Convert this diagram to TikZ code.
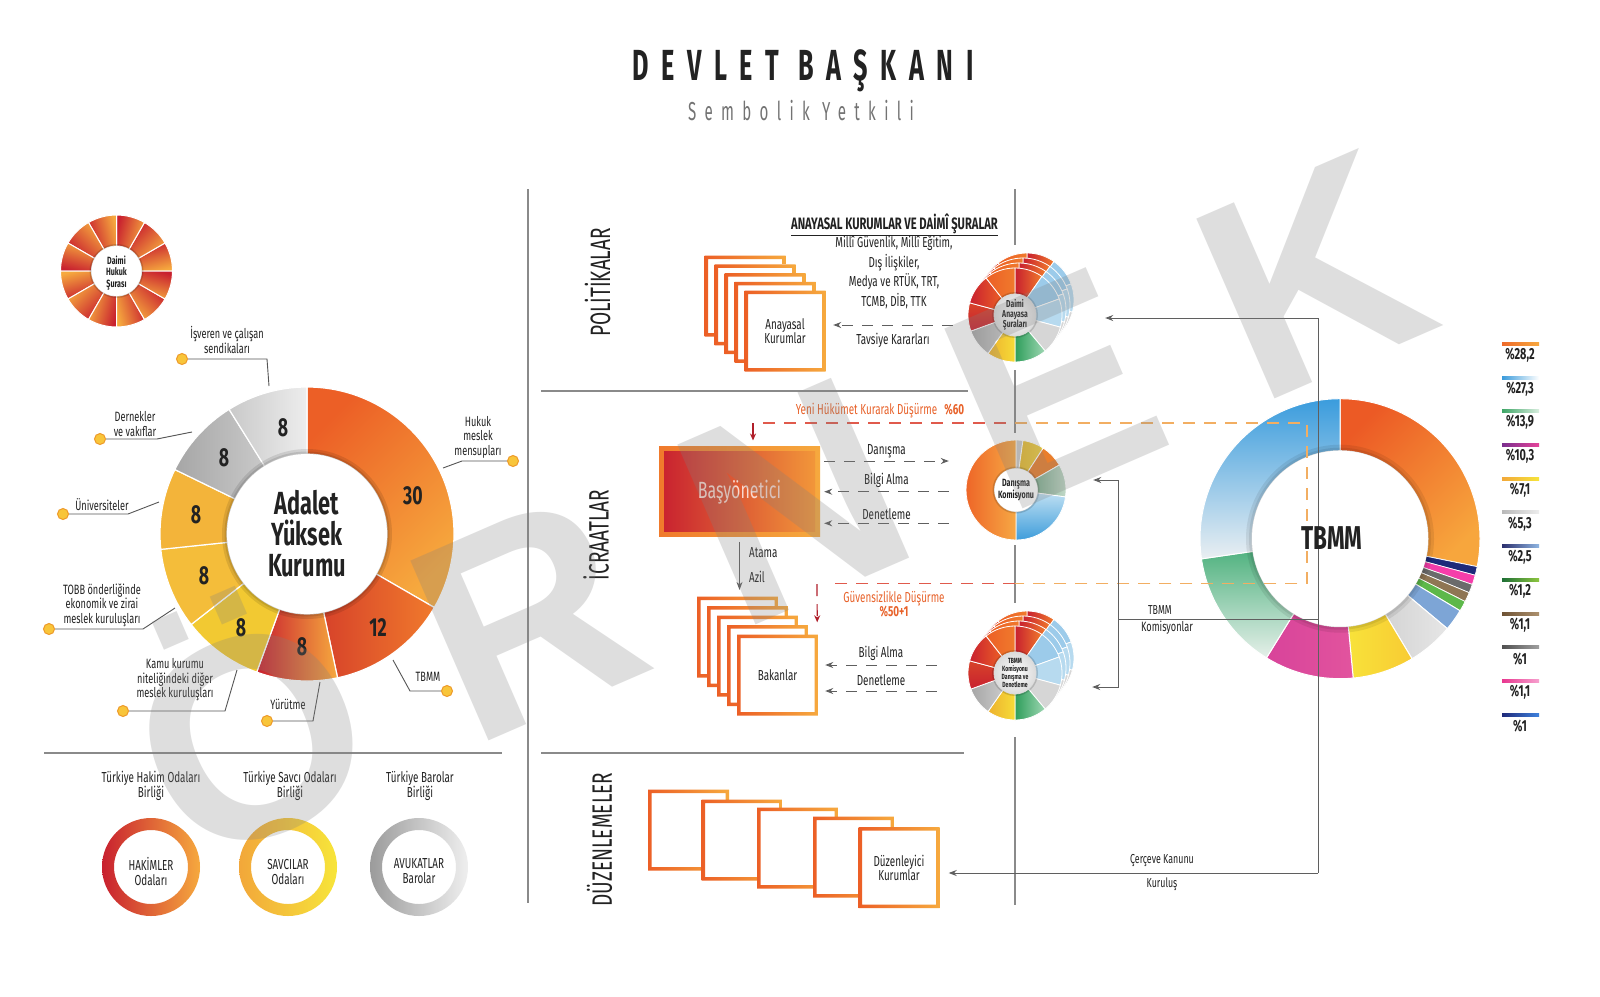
\documentclass[tikz,border=0pt]{standalone}
\usepackage{fontspec}
\setmainfont{Fira Sans}[FakeStretch=0.68]
\newfontfamily\ttlfont{Fira Sans}[FakeStretch=0.58, LetterSpace=29]
\newfontfamily\subfont{Fira Sans}[FakeStretch=0.58, LetterSpace=32]
\newfontfamily\wmfont{Liberation Sans}[LetterSpace=30]
\usetikzlibrary{arrows.meta, positioning}

\definecolor{cRed}{HTML}{C8202F}
\definecolor{cRedO}{HTML}{D7432A}
\definecolor{cOrgD}{HTML}{EC5F26}
\definecolor{cOrg}{HTML}{F07A2C}
\definecolor{cLOrg}{HTML}{F6A93E}
\definecolor{cYel}{HTML}{F2C932}
\definecolor{cGoldA}{HTML}{F4BD3A}
\definecolor{cGold}{HTML}{F3B43A}
\definecolor{cGrayD}{HTML}{A6A6A6}
\definecolor{cGrayM}{HTML}{C9C9C9}
\definecolor{cGrayL}{HTML}{EDEDED}
\definecolor{cLine}{HTML}{8A8A8A}
\definecolor{cConn}{HTML}{5F5F5F}
\definecolor{cTxt}{HTML}{222222}
\definecolor{cDashR}{HTML}{E05A4C}
\definecolor{cDashO}{HTML}{F2AE62}
\definecolor{cDarkRed}{HTML}{B01E2A}
\definecolor{cOrgTxt}{HTML}{E8622A}
\definecolor{cDot}{HTML}{F8C53A}
\definecolor{cDotE}{HTML}{EE9A2A}
\definecolor{cLead}{HTML}{555555}
\definecolor{cPink}{HTML}{F9D9CF}
% legend colours
\definecolor{lg1L}{HTML}{EE6A2A}\definecolor{lg1R}{HTML}{F7A83E}
\definecolor{lg2L}{HTML}{3A9BDB}\definecolor{lg2R}{HTML}{FFFFFF}
\definecolor{lg3L}{HTML}{3DA566}\definecolor{lg3R}{HTML}{D9EEDF}
\definecolor{lg4L}{HTML}{7A2E8E}\definecolor{lg4R}{HTML}{E6449A}
\definecolor{lg5L}{HTML}{F2A83A}\definecolor{lg5R}{HTML}{F6E43B}
\definecolor{lg6L}{HTML}{B9B9B9}\definecolor{lg6R}{HTML}{EDEDED}
\definecolor{lg7L}{HTML}{2B2F6E}\definecolor{lg7R}{HTML}{8FB6E2}
\definecolor{lg8L}{HTML}{1E6F36}\definecolor{lg8R}{HTML}{8DC63F}
\definecolor{lg9L}{HTML}{6E5234}\definecolor{lg9R}{HTML}{AD916E}
\definecolor{lg10L}{HTML}{505050}\definecolor{lg10R}{HTML}{A0A0A0}
\definecolor{lg11L}{HTML}{E8368F}\definecolor{lg11R}{HTML}{F7A1CF}
\definecolor{lg12L}{HTML}{1F2A7A}\definecolor{lg12R}{HTML}{3E82DE}

\newcommand{\ringseg}[5]{\path[#5] (#1:#4) arc[start angle=#1, end angle=#2, radius=#4] -- (#2:#3) arc[start angle=#2, end angle=#1, radius=#3] -- cycle;}

\newcommand{\meclisring}{%
 \ringseg{90}{55}{21}{47}{left color=cRed, right color=cOrg, draw=white, line width=0.8}
 \ringseg{55}{20}{21}{47}{fill={rgb,255:red,156;green,203;blue,234}, draw=white, line width=0.8}
 \ringseg{20}{-15}{21}{47}{fill={rgb,255:red,183;green,218;blue,239}, draw=white, line width=0.8}
 \ringseg{-15}{-50}{21}{47}{fill={rgb,255:red,214;green,214;blue,214}, draw=white, line width=0.8}
 \ringseg{-50}{-90}{21}{47}{left color={rgb,255:red,46;green,158;blue,91}, right color={rgb,255:red,159;green,215;blue,179}, draw=white, line width=0.8}
 \ringseg{-90}{-125}{21}{47}{left color={rgb,255:red,237;green,177;blue,46}, right color={rgb,255:red,246;green,220;blue,56}, draw=white, line width=0.8}
 \ringseg{-125}{-160}{21}{47}{left color=cGrayD, right color=cGrayM, draw=white, line width=0.8}
 \ringseg{-160}{-195}{21}{47}{top color=cRedO, bottom color=cRed, draw=white, line width=0.8}
 \ringseg{-195}{-232}{21}{47}{left color=cRed, right color=cOrgD, draw=white, line width=0.8}
 \ringseg{-232}{-270}{21}{47}{left color=cOrgD, right color=cOrg, draw=white, line width=0.8}
}

\begin{document}
\begin{tikzpicture}[x=1pt, y=-1pt]

\tikzset{divline/.style = {draw=cLine, line width=1.3}}
\tikzset{gline/.style = {draw=cConn, line width=1}}
\tikzset{garrow/.style = {gline, -{Stealth[length=8, width=6]}}}
\tikzset{darrow/.style = {garrow, dash pattern=on 11pt off 9pt}}
\tikzset{redarrow/.style = {draw=cDarkRed, line width=1.2, -{Stealth[length=7, width=6]}}}
\tikzset{dshR/.style = {draw=cDashR, line width=1.2, dash pattern=on 12pt off 9pt}}
\tikzset{dshO/.style = {draw=cDashO, line width=1.2, dash pattern=on 12pt off 9pt}}
\tikzset{lbl/.style = {font=\fontsize{14.5}{15}\selectfont, text=cTxt, align=center, inner sep=1}}
\tikzset{slbl/.style = {font=\fontsize{13.5}{14.5}\selectfont, text=cTxt, align=center, inner sep=1}}
\tikzset{otxt/.style = {font=\fontsize{14.5}{14}\selectfont, text=cOrgTxt, align=center, inner sep=1}}
\tikzset{sect/.style = {font=\fontsize{28}{28}\selectfont, text=cTxt, rotate=90, inner sep=0}}
\tikzset{num/.style = {font=\fontsize{26}{26}\selectfont\bfseries, text=cTxt, inner sep=0}}
\tikzset{ldot/.style = {circle, fill=cDot, draw=cDotE, line width=1, minimum size=11, inner sep=0}}
\tikzset{leader/.style = {draw=cLead, line width=0.9}}
\tikzset{ctxt/.style = {font=\fontsize{10}{10}\selectfont\bfseries, text=cTxt, align=center, inner sep=0}}
\tikzset{lgtxt/.style = {font=\fontsize{16}{16}\selectfont\bfseries, text=cTxt, inner sep=0}}
\tikzset{obox/.style = {minimum width=81, minimum height=81, inner sep=0, fill=white, align=center,
  font=\fontsize{14.5}{14}\selectfont, text=cTxt,
  path picture={\shade[left color=cOrgD, right color=cLOrg, even odd rule]
   (path picture bounding box.south west) rectangle (path picture bounding box.north east)
   ([shift={(3.5,3.5)}]path picture bounding box.north west) rectangle ([shift={(-3.5,-3.5)}]path picture bounding box.south east);}}}
\tikzset{basbox/.style = {minimum width=161, minimum height=90, inner sep=0, left color=cOrg, right color=cLOrg,
  font=\fontsize{23.5}{24}\selectfont, text=cPink,
  path picture={\shade[left color=cRed, right color={rgb,255:red,243;green,154;blue,58}]
   ([shift={(5,5)}]path picture bounding box.north west) rectangle ([shift={(-5,-5)}]path picture bounding box.south east);}}}
\tikzset{wmark/.style = {font=\wmfont\bfseries\fontsize{285}{285}\selectfont, text=black!50, text opacity=0.26, inner sep=0}}

\fill[white] (0,0) rectangle (1600,996);
\useasboundingbox (0,0) rectangle (1600,996);

% title
\node[font=\ttlfont\fontsize{43.5}{44}\selectfont\bfseries, text=cTxt] (devlet) at (803,71) {DEVLET BAŞKANI};
\node[font=\subfont\fontsize{26}{26}\selectfont, text=black!55] (sembolik) at (801,111) {Sembolik Yetkili};

% frame lines
\draw[divline] (528,189) -- (528,903);
\draw[divline] (1015,189) -- (1015,245);
\draw[divline] (1015,370) -- (1015,433);
\draw[divline] (1015,545) -- (1015,603);
\draw[divline] (1015,737) -- (1015,905);
\draw[divline] (44,753) -- (502,753);
\draw[divline] (541,391) -- (968,391);
\draw[divline] (541,753) -- (964,753);

% daimi hukuk surasi
\begin{scope}[shift={(116.5,271)}, yscale=-1]
  \foreach \a in {0,30,...,330}
    {\ringseg{\a+30}{\a}{25}{56}{top color=cRed, bottom color=cLOrg, shading angle=\a+15, draw=white, line width=1}}
  \fill[black, opacity=0.15] (0,0) circle (27);
  \fill[white] (0,0) circle (25);
\end{scope}
\node[font=\fontsize{10.5}{11.4}\selectfont\bfseries, text=cTxt, align=center] (dhs) at (116.5,273) {Daimi\\Hukuk\\Şurası};

% adalet yuksek kurumu ring
\begin{scope}[shift={(307,534)}, yscale=-1]
  \ringseg{90}{-30}{80}{147}{top color=cOrgD, bottom color=cLOrg, shading angle=45, draw=white, line width=1.2}
  \ringseg{-30}{-78}{80}{147}{left color=cRedO, right color=cOrg, draw=white, line width=1.2}
  \ringseg{-78}{-110}{80}{147}{left color=cRed, right color=cLOrg, draw=white, line width=1.2}
  \ringseg{-110}{-142}{80}{147}{fill=cYel, draw=white, line width=1.2}
  \ringseg{-142}{-174}{80}{147}{fill=cGoldA, draw=white, line width=1.2}
  \ringseg{-174}{-206}{80}{147}{fill=cGold, draw=white, line width=1.2}
  \ringseg{-206}{-238}{80}{147}{left color=cGrayD, right color=cGrayM, draw=white, line width=1.2}
  \ringseg{-238}{-270}{80}{147}{left color=cGrayM, right color=cGrayL, draw=white, line width=1.2}
\end{scope}
\node[num] (n30) at (413,496) {30};
\node[num] (n12) at (378,628) {12};
\node[num] (nyur) at (302,647) {8};
\node[num] (nkam) at (241,628) {8};
\node[num] (ntob) at (204,576) {8};
\node[num] (nuni) at (196,515) {8};
\node[num] (nder) at (224,458) {8};
\node[num] (nisv) at (283,428) {8};

% leaders
\node[slbl] (tisv) at (227,340) {İşveren ve çalışan\\sendikaları};
\node[ldot] (disv) at (182,359) {};
\draw[leader] (disv) -- ++(85,0) -- ++(2,27);
\node[slbl] (tder) at (135,424) {Dernekler\\ve vakıflar};
\node[ldot] (dder) at (100,439) {};
\draw[leader] (dder) -- ++(57,0) -- ++(35,-7);
\node[slbl] (tuni) at (102,505) {Üniversiteler};
\node[ldot] (duni) at (63,514) {};
\draw[leader] (duni) -- ++(65,0) -- ++(31,-12);
\node[slbl] (ttob) at (102,605) {TOBB önderliğinde\\ekonomik ve zirai\\meslek kuruluşları};
\node[ldot] (dtob) at (49,629) {};
\draw[leader] (dtob) -- ++(94,0) -- ++(32,-21);
\node[slbl] (tkam) at (175,680) {Kamu kurumu\\niteliğindeki diğer\\meslek kuruluşları};
\node[ldot] (dkam) at (123,711) {};
\draw[leader] (dkam) -- ++(102,0) -- ++(12,-41);
\node[slbl] (tyur) at (288,704) {Yürütme};
\node[ldot] (dyur) at (267,721) {};
\draw[leader] (dyur) -- ++(46,0) -- ++(7,-39);
\node[slbl] (ttbm) at (428,677) {TBMM};
\node[ldot] (dtbm) at (447,691) {};
\draw[leader] (dtbm) -- ++(-37,0) -- ++(-17,-31);
\node[slbl] (thuk) at (478,437) {Hukuk\\meslek\\mensupları};
\node[ldot] (dhuk) at (513,461) {};
\draw[leader] (dhuk) -- ++(-51,0) -- ++(-19,7);

% bottom rings
\node[lbl] (thob) at (151,785.5) {Türkiye Hakim Odaları\\Birliği};
\node[lbl] (tsob) at (290,785.5) {Türkiye Savcı Odaları\\Birliği};
\node[lbl] (ttbb) at (420,785.5) {Türkiye Barolar\\Birliği};
\path[left color=cRed, right color=cLOrg, even odd rule] (151,867) circle (49) circle (37);
\path[left color={rgb,255:red,242;green,167;blue,58}, right color={rgb,255:red,247;green,229;blue,58}, even odd rule] (288,867) circle (49) circle (37);
\path[left color={rgb,255:red,155;green,155;blue,155}, right color={rgb,255:red,239;green,239;blue,239}, even odd rule] (419,867) circle (49) circle (37);
\node[lbl] (hakim) at (151,871.5) {HAKİMLER\\Odaları};
\node[lbl] (savci) at (288,871.5) {SAVCILAR\\Odaları};
\node[lbl] (avuk) at (419,871.5) {AVUKATLAR\\Barolar};

% sections
\node[sect] (pol) at (597.5,282.5) {POLİTİKALAR};
\node[sect] (icr) at (596,535) {İCRAATLAR};
\node[sect] (duz) at (599.5,839.5) {DÜZENLEMELER};

% politikalar
\node[font=\fontsize{16.5}{16}\selectfont\bfseries, text=cTxt, inner sep=1] (anaytit) at (894.5,225) {\underline{ANAYASAL KURUMLAR VE DAİMÎ ŞURALAR}};
\node[font=\fontsize{14.5}{19.7}\selectfont, text=cTxt, align=center] (anaylist) at (894,272.5) {Millî Güvenlik, Millî Eğitim,\\Dış İlişkiler,\\Medya ve RTÜK, TRT,\\TCMB, DİB, TTK};
\foreach \k in {4,3,2,1}
  \node[obox] (anay\k) at (785-10*\k, 331-8.75*\k) {};
\node[obox] (anay) at (785,331) {Anayasal\\Kurumlar};

% icraatlar
\node[basbox] (basy) at (739.5,491.7) {Başyönetici};
\foreach \k in {4,3,2,1}
  \node[obox] (bakan\k) at (777.5-10*\k, 675-9.5*\k) {};
\node[obox] (bakan) at (777.5,675) {Bakanlar};
\node[otxt] (yeni) at (880,410.7) {Yeni Hükümet Kurarak Düşürme\enspace\textbf{\%60}};
\node[otxt] (guven) at (894,603.7) {Güvensizlikle Düşürme\\\textbf{\%50+1}};

% duzenlemeler
\node[obox] (duz1) at (688.5,830) {};
\node[obox] (duz2) at (742,840) {};
\node[obox] (duz3) at (797.5,848) {};
\node[obox] (duz4) at (853.5,857) {};
\node[obox] (duz5) at (899,867.5) {Düzenleyici\\Kurumlar};

% meclis circles
\begin{scope}[shift={(1015,315)}, yscale=-1]
  \foreach \k in {3,2,1} {\begin{scope}[shift={(4*\k,5*\k)}]\meclisring\end{scope}}
  \meclisring
  \fill[black, opacity=0.15] (0,0) circle (23);
  \shade[inner color=white, outer color=black!14] (0,0) circle (21);
\end{scope}
\node[circle, minimum size=94, inner sep=0, ctxt] (dasura) at (1015,315) {Daimi\\Anayasa\\Şuraları};

\begin{scope}[shift={(1016,490)}, yscale=-1]
  \ringseg{90}{82}{21.5}{50}{fill=cGrayM, draw=white, line width=0.8}
  \ringseg{82}{57}{21.5}{50}{left color={rgb,255:red,230;green,185;blue,46}, right color={rgb,255:red,239;green,208;blue,64}, draw=white, line width=0.8}
  \ringseg{57}{30}{21.5}{50}{fill={rgb,255:red,233;green,126;blue,44}, draw=white, line width=0.8}
  \ringseg{30}{-8}{21.5}{50}{left color={rgb,255:red,127;green,174;blue,142}, right color={rgb,255:red,195;green,217;blue,201}, draw=white, line width=0.8}
  \ringseg{-8}{-90}{21.5}{50}{top color={rgb,255:red,190;green,223;blue,242}, bottom color={rgb,255:red,62;green,157;blue,219}, draw=white, line width=0.8}
  \ringseg{-90}{-270}{21.5}{50}{left color={rgb,255:red,238;green,102;blue,40}, right color={rgb,255:red,246;green,168;blue,68}, draw=white, line width=0.8}
  \fill[black, opacity=0.15] (0,0) circle (23.5);
  \fill[white] (0,0) circle (21.5);
\end{scope}
\node[circle, minimum size=100, inner sep=0, font=\fontsize{10.5}{12}\selectfont\bfseries, text=cTxt, align=center] (danis) at (1016,490) {Danışma\\Komisyonu};

\begin{scope}[shift={(1015,673)}, yscale=-1]
  \foreach \k in {3,2,1} {\begin{scope}[shift={(4*\k,5*\k)}]\meclisring\end{scope}}
  \meclisring
  \fill[black, opacity=0.15] (0,0) circle (23);
  \shade[inner color=white, outer color=black!14] (0,0) circle (21);
\end{scope}
\node[circle, minimum size=100, inner sep=0, font=\fontsize{7.5}{8.3}\selectfont\bfseries, text=cTxt, align=center] (tbkom) at (1015,673) {TBMM\\Komisyonu\\Danışma ve\\Denetleme};

% tbmm donut
\begin{scope}[shift={(1340,538.7)}, yscale=-1]
  \ringseg{90}{-11.52}{88}{140}{top color={rgb,255:red,236;green,90;blue,37}, bottom color={rgb,255:red,247;green,166;blue,61}, shading angle=45, draw=white, line width=1}
  \ringseg{-11.52}{-15.12}{88}{140}{fill={rgb,255:red,30;green,42;blue,122}, draw=white, line width=0.7}
  \ringseg{-15.12}{-19.08}{88}{140}{fill={rgb,255:red,245;green,61;blue,170}, draw=white, line width=0.7}
  \ringseg{-19.08}{-22.68}{88}{140}{fill={rgb,255:red,107;green,107;blue,107}, draw=white, line width=0.7}
  \ringseg{-22.68}{-26.64}{88}{140}{fill={rgb,255:red,143;green,118;blue,84}, draw=white, line width=0.7}
  \ringseg{-26.64}{-30.96}{88}{140}{fill={rgb,255:red,93;green,184;blue,74}, draw=white, line width=0.7}
  \ringseg{-30.96}{-39.96}{88}{140}{fill={rgb,255:red,125;green,165;blue,214}, draw=white, line width=1}
  \ringseg{-39.96}{-59.04}{88}{140}{left color={rgb,255:red,212;green,212;blue,212}, right color={rgb,255:red,230;green,230;blue,230}, draw=white, line width=1}
  \ringseg{-59.04}{-84.6}{88}{140}{left color={rgb,255:red,248;green,226;blue,58}, right color={rgb,255:red,248;green,203;blue,51}, draw=white, line width=1}
  \ringseg{-84.6}{-121.68}{88}{140}{left color={rgb,255:red,216;green,67;blue,154}, right color={rgb,255:red,226;green,84;blue,158}, draw=white, line width=1}
  \ringseg{-121.68}{-171.72}{88}{140}{top color={rgb,255:red,82;green,179;blue,129}, bottom color={rgb,255:red,230;green,240;blue,234}, draw=white, line width=1}
  \ringseg{-171.72}{-270}{88}{140}{top color={rgb,255:red,58;green,156;blue,221}, bottom color={rgb,255:red,234;green,239;blue,242}, draw=white, line width=1}
  \fill[black, opacity=0.08] (0,0) circle (94);
  \fill[black, opacity=0.08] (0,0) circle (91);
  \fill[white] (0,0) circle (88);
\end{scope}

% legend
\foreach \ly/\lt [count=\i] in {344/{\%28,2}, 377.7/{\%27,3}, 411/{\%13,9}, 445/{\%10,3}, 478.7/{\%7,1}, 512.3/{\%5,3},
                                546/{\%2,5}, 580/{\%1,2}, 613.7/{\%1,1}, 647.3/{\%1}, 680.7/{\%1,1}, 715/{\%1}}
  {\shade[left color=lg\i L, right color=lg\i R] (1502,\ly-1.5) rectangle (1539,\ly+1.5);
   \node[lgtxt] (lg\i) at (1520,\ly+11.5) {\lt};}

% orange dashed frame
\coordinate (yhA) at (763,423);
\coordinate (yhM) at (1015,423);
\coordinate (yhB) at (1307,423);
\coordinate (yhC) at (1307,583.3);
\coordinate (yhN) at (1015,583.3);
\coordinate (yhD) at (829,583.3);
\draw[dshR] (yhA) -- (yhM);
\draw[dshO] (yhM) -- (yhB) -- (yhC) -- (yhN);
\draw[dshR] (yhN) -- (yhD);
\coordinate (rdA) at (753,423);
\draw[redarrow] (rdA) -- ([xshift=13.5, yshift=6]basy.north);
\coordinate (rdB) at (817,584);
\draw[redarrow, dash pattern=on 12pt off 8pt] (rdB) -- ([xshift=-1, yshift=12]bakan.north east);

% dashed arrows
\draw[darrow] ([xshift=-15, yshift=-10]dasura.west) -- ([xshift=7.5, yshift=6]anay.east) node[midway, lbl, yshift=-15] (tavs) {Tavsiye Kararları};
\draw[darrow] ([xshift=4, yshift=30.7]basy.east) -- ([xshift=-17, yshift=29]danis.west) node[midway, lbl, yshift=10] (ldan) {Danışma};
\draw[darrow] ([xshift=-17, yshift=-1.7]danis.west) -- ([xshift=4]basy.east) node[midway, lbl, yshift=11] (lbil) {Bilgi Alma};
\draw[darrow] ([xshift=-17, yshift=-33.3]danis.west) -- ([xshift=4, yshift=-31.6]basy.east) node[midway, lbl, yshift=9.5] (lden) {Denetleme};
\draw[darrow] ([xshift=-28, yshift=8]tbkom.west) -- ([xshift=7, yshift=10]bakan.east) node[midway, lbl, yshift=12] (lbil2) {Bilgi Alma};
\draw[darrow] ([xshift=-28, yshift=-18]tbkom.west) -- ([xshift=7, yshift=-16]bakan.east) node[midway, lbl, yshift=11] (lden2) {Denetleme};

% atama
\draw[garrow] ([yshift=-5]basy.south) -- ++(0,48);
\node[lbl, anchor=west] (atama) at (748,553) {Atama};
\node[lbl, anchor=west] (azil) at (748,577) {Azil};

% tbmm connectors
\coordinate (rA) at (1318,318);
\coordinate (rB) at (1318,619);
\coordinate (rC) at (1318,873);
\coordinate (kA) at (1118,619);
\coordinate (kT) at (1118,480);
\coordinate (kB) at (1118,687);
\draw[garrow] (rA) -- ([xshift=43, yshift=-3]dasura.east);
\draw[gline] (rA) -- (rC);
\draw[garrow] (rC) -- ([xshift=9, yshift=-5.5]duz5.east);
\draw[gline] (rB) -- (kA);
\draw[garrow] (kA) -- (kT) -- ([xshift=27, yshift=10]danis.east);
\draw[garrow] (kA) -- (kB) -- ([xshift=27, yshift=-14]tbkom.east);
\node[font=\fontsize{13}{13}\selectfont, text=cTxt] (ltb) at (1160,610) {TBMM};
\node[font=\fontsize{13.5}{13}\selectfont, text=cTxt] (lkom) at (1167,627.5) {Komisyonlar};
\node[font=\fontsize{13}{13}\selectfont, text=cTxt] (lcer) at (1162,860) {Çerçeve Kanunu};
\node[font=\fontsize{13}{13}\selectfont, text=cTxt] (lkur) at (1162,884) {Kuruluş};
\node[font=\fontsize{33}{33}\selectfont\bfseries, text=cTxt] (tbmm) at (1332,538) {TBMM};

% watermark
\node[wmark, rotate=23.5, anchor=base] (ornek) at (818,598) {ÖRNEK};

% ayk centre
\begin{scope}[shift={(307,534)}]
  \fill[black, opacity=0.1] (0,0) circle (85);
  \fill[black, opacity=0.1] (0,0) circle (82.5);
  \fill[white] (0,0) circle (80);
\end{scope}
\node[circle, minimum size=160, inner sep=0, font=\fontsize{32}{31}\selectfont\bfseries, text=cTxt, align=center] (ayk) at (307,534) {Adalet\\Yüksek\\Kurumu};

\end{tikzpicture}
\end{document}
